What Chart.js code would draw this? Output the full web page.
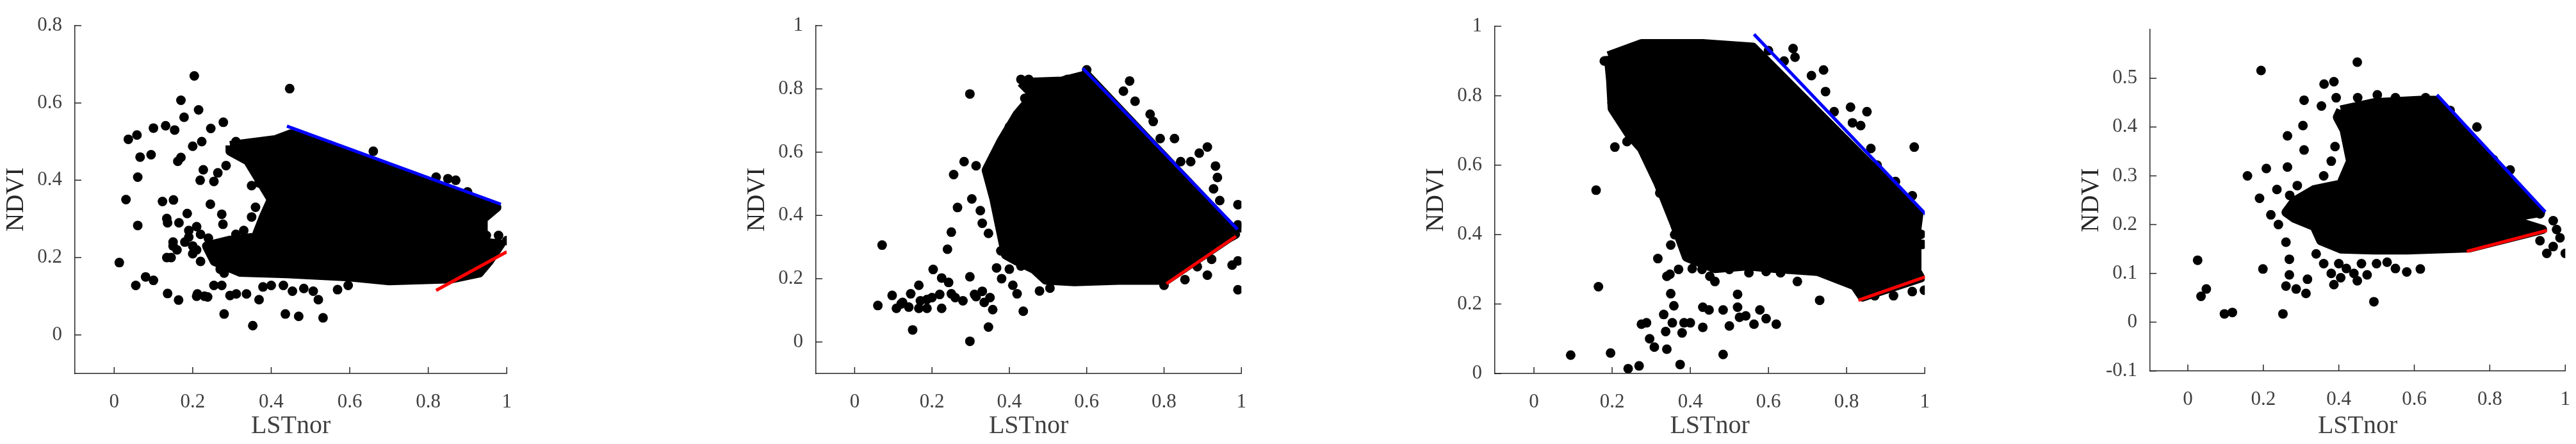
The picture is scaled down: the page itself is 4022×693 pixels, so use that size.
<!DOCTYPE html>
<html><head><meta charset="utf-8">
<script src="https://cdn.jsdelivr.net/npm/chart.js@4.4.1/dist/chart.umd.min.js"></script>
<style>body{margin:0;background:#fff;width:4022px;height:693px;overflow:hidden;position:relative}canvas{position:absolute;top:0}</style>
</head><body>
<canvas id="c1"></canvas><canvas id="c2"></canvas><canvas id="c3"></canvas><canvas id="c4"></canvas>
<script>
const xTicks=[0,0.2,0.4,0.6,0.8,1];
const yTicks1=[0,0.2,0.4,0.6,0.8];
const yTicks2=[0,0.2,0.4,0.6,0.8,1];
const yTicks3=[0,0.2,0.4,0.6,0.8,1];
const yTicks4=[-0.1,0,0.1,0.2,0.3,0.4,0.5];

// dense core outlines
const core1=[[.295,.49],[.41,.505],[.45,.52],[.975,.33],[.94,.30],[.94,.24],[.985,.235],[.955,.19],[.93,.16],[.86,.145],[.70,.14],[.6,.15],[.44,.158],[.32,.162],[.255,.19],[.235,.23],[.295,.245],[.36,.253],[.38,.305],[.40,.35],[.34,.45],[.295,.475],[.295,.49]];
const pts1=[[.013,.187],[.03,.35],[.036,.506],[.058,.517],[.066,.46],[.06,.408],[.06,.283],[.055,.128],[.08,.15],[.1,.141],[.094,.466],[.1,.535],[.123,.345],[.131,.541],[.151,.349],[.154,.53],[.162,.449],[.17,.607],[.178,.563],[.17,.459],[.186,.314],[.134,.301],[.136,.29],[.165,.29],[.134,.2],[.136,.107],[.164,.09],[.204,.67],[.215,.582],[.223,.5],[.2,.488],[.227,.427],[.219,.4],[.246,.534],[.245,.338],[.254,.397],[.264,.419],[.278,.55],[.285,.438],[.274,.312],[.277,.286],[.274,.128],[.28,.054],[.254,.128],[.212,.106],[.238,.098],[.295,.102],[.311,.106],[.337,.106],[.353,.024],[.369,.091],[.379,.124],[.4,.128],[.431,.128],[.454,.113],[.483,.12],[.436,.054],[.47,.048],[.507,.113],[.52,.091],[.532,.044],[.569,.117],[.596,.128],[.447,.637],[.35,.386],[.369,.393],[.35,.305],[.979,.257],[1.0,.244],[.948,.257],[.963,.224],[.66,.475],[.87,.4],[.85,.404],[.82,.408],[.19,.253],[.2,.23],[.21,.22],[.22,.26],[.24,.25],[.18,.24],[.16,.22],[.15,.23],[.26,.21],[.27,.17],[.28,.16],[.3,.23],[.32,.2],[.33,.27],[.34,.24],[.2,.21],[.22,.19],[.19,.27],[.21,.28],[.36,.33],[.38,.4],[.4,.39],[.42,.37],[.15,.24],[.21,.1],[.23,.1],[.27,.2],[.29,.19],[.31,.26],[.145,.2],[.31,.5],[.33,.48],[.36,.47],[.42,.5],[.5,.5],[.55,.49],[.93,.34],[.95,.32],[.9,.37]];
const blue1=[[.44,.54],[.985,.338]];
const red1=[[.82,.115],[1.0,.215]];

const core2=[[.43,.82],[.537,.825],[.6,.845],[.975,.36],[.985,.34],[.97,.33],[.806,.195],[.695,.195],[.568,.19],[.494,.195],[.463,.23],[.42,.255],[.39,.275],[.36,.452],[.34,.543],[.378,.634],[.42,.72],[.462,.78],[.43,.82]];
const pts2=[[.06,.115],[.071,.306],[.097,.147],[.108,.106],[.124,.125],[.145,.152],[.15,.038],[.166,.179],[.166,.106],[.187,.134],[.187,.106],[.203,.229],[.225,.202],[.225,.106],[.243,.188],[.25,.152],[.25,.347],[.24,.293],[.256,.529],[.266,.425],[.283,.57],[.303,.452],[.298,.002],[.298,.784],[.298,.206],[.314,.143],[.314,.557],[.325,.415],[.33,.375],[.346,.047],[.335,.125],[.357,.102],[.346,.343],[.367,.234],[.378,.288],[.399,.325],[.409,.179],[.42,.152],[.436,.097],[.43,.83],[.462,.734],[.478,.161],[.505,.17],[.711,.825],[.695,.793],[.725,.761],[.764,.72],[.772,.697],[.79,.643],[.827,.643],[.843,.57],[.869,.57],[.891,.597],[.912,.616],[.933,.556],[.938,.52],[.928,.484],[.944,.447],[.991,.434],[.991,.37],[.997,.361],[.991,.256],[.991,.165],[.976,.243],[.912,.211],[.854,.197],[.886,.238],[.923,.261],[.8,.179],[.12,.12],[.14,.11],[.17,.13],[.2,.14],[.22,.15],[.26,.14],[.28,.13],[.31,.15],[.33,.16],[.35,.14],[.38,.2],[.4,.23],[.43,.24],[.39,.5],[.37,.6],[.4,.68],[.44,.77],[.47,.8],[.5,.82],[.55,.83],[.6,.86],[.45,.83]];
const blue2=[[.59,.865],[.99,.356]];
const red2=[[.806,.184],[.986,.334]];

const core3=[[.19,.915],[.275,.95],[.432,.95],[.56,.94],[.985,.46],[.98,.417],[.98,.294],[.99,.275],[.84,.22],[.82,.253],[.726,.294],[.62,.302],[.547,.31],[.463,.302],[.39,.335],[.358,.434],[.317,.549],[.275,.648],[.243,.689],[.2,.763],[.196,.845],[.19,.915]];
const pts3=[[.094,.053],[.159,.528],[.165,.25],[.196,.059],[.207,.652],[.238,.668],[.241,.014],[.269,.022],[.275,.142],[.288,.146],[.296,.1],[.308,.076],[.317,.331],[.322,.52],[.332,.17],[.34,.07],[.337,.121],[.348,.286],[.354,.146],[.358,.195],[.374,.026],[.379,.117],[.384,.146],[.4,.146],[.405,.302],[.432,.133],[.432,.191],[.448,.183],[.463,.265],[.484,.055],[.484,.183],[.5,.137],[.521,.191],[.521,.228],[.526,.162],[.542,.166],[.563,.142],[.578,.183],[.594,.158],[.62,.142],[.594,.294],[.631,.29],[.674,.265],[.731,.211],[.663,.936],[.668,.911],[.71,.858],[.741,.874],[.746,.812],[.768,.754],[.81,.767],[.815,.722],[.836,.714],[.852,.754],[.862,.648],[.878,.6],[.925,.553],[.973,.652],[.968,.512],[.958,.467],[.99,.401],[.994,.372],[.999,.24],[.968,.236],[.92,.224],[.872,.224],[.18,.9],[.2,.78],[.21,.86],[.35,.37],[.36,.4],[.37,.3],[.5,.3],[.55,.29],[.45,.28],[.43,.3],[.34,.28],[.35,.23],[.6,.93],[.64,.9]];
const blue3=[[.563,.977],[1.003,.458]];
const red3=[[.83,.211],[1.008,.281]];

const core4=[[.405,.435],[.493,.45],[.616,.455],[.655,.455],[.935,.225],[.845,.213],[.94,.19],[.745,.152],[.58,.148],[.493,.148],[.405,.15],[.352,.167],[.335,.196],[.282,.213],[.26,.225],[.282,.248],[.335,.272],[.405,.283],[.431,.33],[.414,.394],[.396,.42],[.405,.435]];
const pts4=[[.026,.127],[.035,.053],[.049,.068],[.097,.017],[.118,.02],[.158,.3],[.194,.516],[.199,.109],[.19,.254],[.208,.315],[.236,.272],[.252,.017],[.26,.074],[.264,.382],[.264,.318],[.269,.129],[.26,.164],[.269,.097],[.287,.068],[.308,.455],[.308,.353],[.305,.403],[.313,.059],[.317,.088],[.354,.443],[.361,.488],[.387,.493],[.393,.46],[.387,.077],[.405,.091],[.449,.533],[.449,.085],[.475,.097],[.493,.042],[.502,.466],[.528,.123],[.58,.103],[.616,.109],[.695,.434],[.766,.4],[.88,.263],[.889,.243],[.81,.333],[.854,.312],[.933,.222],[.968,.208],[.977,.19],[.933,.167],[.968,.155],[.951,.141],[1.0,.141],[.986,.173],[.22,.22],[.24,.2],[.27,.26],[.29,.28],[.3,.22],[.32,.24],[.34,.14],[.36,.12],[.38,.1],[.4,.12],[.42,.11],[.44,.1],[.46,.12],[.5,.12],[.55,.11],[.36,.3],[.38,.33],[.39,.36],[.37,.27],[.45,.46],[.55,.46],[.63,.46]];
const blue4=[[.66,.466],[.947,.226]];
const red4=[[.739,.145],[.951,.188]];

const xy=a=>a.map(p=>({x:p[0],y:p[1]}));
const tickPlugin={id:'inTicks',afterDraw(c){const ctx=c.ctx,a=c.chartArea,xs=c.scales.x,ys=c.scales.y;ctx.save();ctx.strokeStyle='#262626';ctx.lineWidth=1.5;ctx.beginPath();
 xs.ticks.forEach(t=>{const p=xs.getPixelForValue(t.value);ctx.moveTo(p,a.bottom);ctx.lineTo(p,a.bottom-10);});
 ys.ticks.forEach(t=>{const p=ys.getPixelForValue(t.value);ctx.moveTo(a.left,p);ctx.lineTo(a.left+10,p);});
 ctx.stroke();ctx.restore();}};

function make(id,plotL,plotR,top,bottom,ymin,ymax,yT,core,pts,blue,red){
 const cv=document.getElementById(id);const W=plotR-plotL+140;
 cv.style.left=(plotL-120)+'px';cv.width=W;cv.height=693;cv.style.width=W+'px';cv.style.height='693px';
 const font={family:'"Liberation Serif","Times New Roman",serif',size:31};
 new Chart(cv,{type:'scatter',data:{datasets:[
  {data:xy(core),showLine:true,fill:'shape',backgroundColor:'#000',borderColor:'#000',borderWidth:14,borderJoinStyle:'round',pointRadius:0,tension:0,order:3},
  {data:xy(pts),backgroundColor:'#000',borderColor:'#000',pointRadius:7.5,borderWidth:0,order:2},
  {data:xy(blue),showLine:true,borderColor:'#0000ff',borderWidth:5,pointRadius:0,order:1},
  {data:xy(red),showLine:true,borderColor:'#ff0000',borderWidth:5,pointRadius:0,order:0}]},
 options:{responsive:false,animation:false,devicePixelRatio:1,
  layout:{padding:{top:top,bottom:0,right:20,left:0}},
  plugins:{legend:{display:false},tooltip:{enabled:false}},
  scales:{
   x:{type:'linear',min:-0.1,max:1,afterBuildTicks:s=>{s.ticks=xTicks.map(v=>({value:v}));},
      afterFit:s=>{s.height=693-bottom;},
      grid:{display:false},border:{display:true,color:'#262626',width:1.5},
      ticks:{font,color:'#404040',padding:18,callback:v=>String(v)},
      title:{display:true,text:'LSTnor',font:{family:font.family,size:40},color:'#404040',padding:{top:4}}},
   y:{type:'linear',min:ymin,max:ymax,afterBuildTicks:s=>{s.ticks=yT.map(v=>({value:v}));},
      afterFit:s=>{s.width=120;},
      grid:{display:false},border:{display:true,color:'#262626',width:1.5},
      ticks:{font,color:'#404040',padding:12,callback:v=>String(v)},
      title:{display:true,text:'NDVI',font:{family:font.family,size:40},color:'#262626',padding:{bottom:8}}}}},
 plugins:[tickPlugin]});
}
make('c1',117,797,40,583,-0.1,0.8,yTicks1,core1,pts1,blue1,red1);
make('c2',1274,1944,40,583,-0.1,1,yTicks2,core2,pts2,blue2,red2);
make('c3',2334,3011,41,583,0,1,yTicks3,core3,pts3,blue3,red3);
make('c4',3357,4011,46,579,-0.1,0.6,yTicks4,core4,pts4,blue4,red4);
</script></body></html>
